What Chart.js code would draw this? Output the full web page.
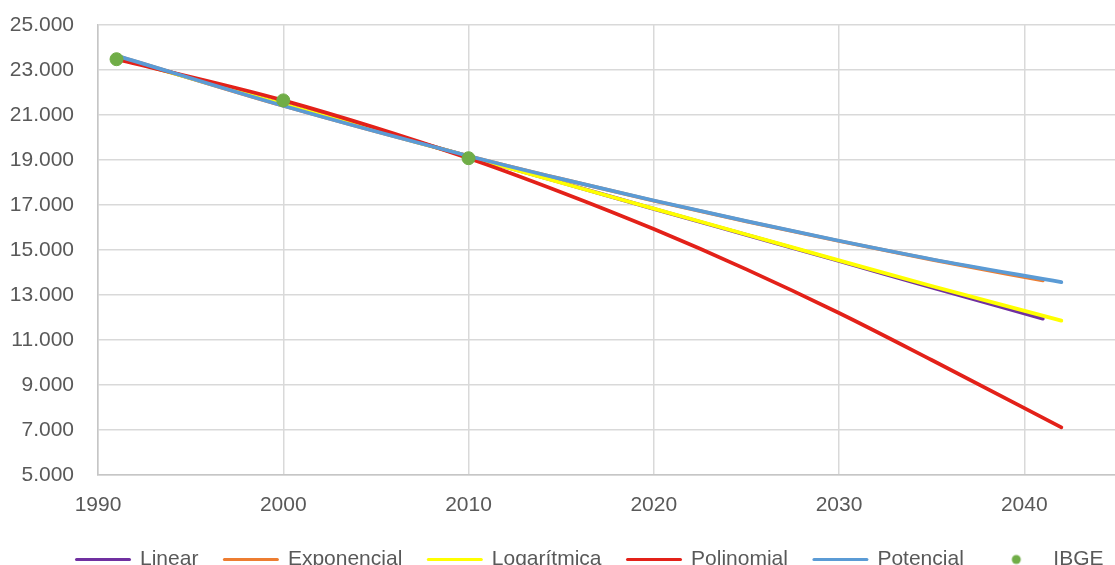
<!DOCTYPE html>
<html lang="pt-BR">

<head>
    <meta charset="UTF-8">
    <title>Projeção populacional</title>
    <style>
        html, body { margin: 0; padding: 0; background: #fff; overflow: hidden; }
        /* o quadro é um pouco maior que a janela, como no recorte da planilha */
        .grafico { position: relative; width: 1180px; height: 580px; }
    </style>
</head>

<body>
    <div class="grafico">
        <canvas id="projecao"></canvas>
    </div>

    <script src="https://cdn.jsdelivr.net/npm/chart.js"></script>
    <script>
        // Anos do censo e população (IBGE)
        const anosIBGE = [1991, 2000, 2010];
        const ibge = [23480, 21650, 19080];

        // Linhas de tendência
        const anosCurtos = [1991, 2000, 2010, 2015, 2020, 2025, 2030, 2035, 2041];
        const anosLongos = [1991, 2000, 2010, 2015, 2020, 2025, 2030, 2035, 2042];

        const linear      = [23580, 21480, 19160, 18000, 16830, 15670, 14510, 13340, 11950];
        const exponencial = [23630, 21410, 19180, 18160, 17190, 16270, 15400, 14570, 13650];
        const logaritmica = [23560, 21480, 19150, 17990, 16840, 15690, 14540, 13400, 11860];
        const polinomial  = [23480, 21650, 19080, 17570, 15930, 14140, 12200, 10110, 7120];
        const potencial   = [23640, 21410, 19180, 18160, 17200, 16280, 15410, 14590, 13570];

        // Eixos
        const anoMin = 1990, anoMax = 2048, passoAno = 10;
        const popMin = 5000, popMax = 25000, passoPop = 2000;

        const corTexto = '#595959';
        const fonte = { family: '"Liberation Sans", Arial, sans-serif', size: 21 };

        function pares(xs, ys) {
            return xs.map((x, i) => ({ x: x, y: ys[i] }));
        }

        function serie(nome, xs, ys, cor, ordem) {
            return {
                label: nome,
                data: pares(xs, ys),
                showLine: true,
                borderColor: cor,
                backgroundColor: cor,
                borderWidth: 3.75,
                borderCapStyle: 'round',
                pointRadius: 0,
                pointHoverRadius: 0,
                cubicInterpolationMode: 'monotone',
                order: ordem
            };
        }

        // bolinha verde da legenda do IBGE
        const bolinha = document.createElement('canvas');
        bolinha.width = 12; bolinha.height = 12;
        const bctx = bolinha.getContext('2d');
        bctx.fillStyle = '#70AD47';
        bctx.beginPath();
        bctx.arc(6, 6, 4.5, 0, Math.PI * 2);
        bctx.fill();

        const ctx = document.getElementById('projecao');

        new Chart(ctx, {
            type: 'scatter',
            data: {
                datasets: [
                    serie('Linear', anosCurtos, linear, '#7030A0', 5),
                    serie('Exponencial', anosCurtos, exponencial, '#ED7D31', 4),
                    serie('Logarítmica', anosLongos, logaritmica, '#FFFF00', 3),
                    serie('Polinomial', anosLongos, polinomial, '#E32119', 2),
                    serie('Potencial', anosLongos, potencial, '#5B9BD5', 1),
                    {
                        label: 'IBGE',
                        data: pares(anosIBGE, ibge),
                        showLine: false,
                        pointRadius: 6.5,
                        pointHoverRadius: 6.5,
                        pointBackgroundColor: '#70AD47',
                        pointBorderColor: '#70AD47',
                        backgroundColor: '#70AD47',
                        borderColor: '#70AD47',
                        order: 0
                    }
                ]
            },
            options: {
                responsive: true,
                maintainAspectRatio: false,
                animation: false,
                devicePixelRatio: 1,
                layout: { padding: { left: 0, right: 0, top: 25, bottom: 0 } },
                plugins: {
                    tooltip: { enabled: false },
                    legend: {
                        position: 'bottom',
                        labels: {
                            usePointStyle: true,
                            pointStyleWidth: 53,
                            padding: 26,
                            color: corTexto,
                            font: fonte,
                            // a legenda segue a ordem das séries, não a de desenho
                            sort: (a, b) => a.datasetIndex - b.datasetIndex,
                            generateLabels(chart) {
                                const itens = Chart.defaults.plugins.legend.labels.generateLabels(chart);
                                itens.forEach(it => {
                                    it.pointStyle = it.text === 'IBGE' ? bolinha : 'line';
                                    it.lineCap = 'round';
                                    it.lineWidth = 3;
                                });
                                return itens;
                            }
                        }
                    }
                },
                scales: {
                    x: {
                        type: 'linear',
                        min: anoMin,
                        max: anoMax,
                        afterBuildTicks: eixo => {
                            eixo.ticks = eixo.ticks.filter(t => t.value % passoAno === 0);
                        },
                        afterFit: eixo => { eixo.height = 48; },
                        ticks: {
                            stepSize: passoAno,
                            color: corTexto,
                            font: fonte,
                            padding: 18,
                            maxRotation: 0,
                            callback: v => String(v)
                        },
                        grid: { color: '#d9d9d9', lineWidth: 1.5, drawTicks: false },
                        border: { color: '#c6c6c6', width: 1.5 }
                    },
                    y: {
                        min: popMin,
                        max: popMax,
                        afterFit: eixo => {
                            eixo.width = 98;
                            // o espaçamento dos rótulos não deve empurrar a área do gráfico
                            eixo.paddingTop = 0;
                            eixo.paddingBottom = 0;
                        },
                        ticks: {
                            stepSize: passoPop,
                            color: corTexto,
                            font: fonte,
                            padding: 24,
                            callback: v => v.toLocaleString('pt-BR', { minimumFractionDigits: 0 })
                        },
                        grid: { color: '#d9d9d9', lineWidth: 1.5, drawTicks: false },
                        border: { color: '#c6c6c6', width: 1.5 }
                    }
                }
            }
        });
    </script>
</body>

</html>
